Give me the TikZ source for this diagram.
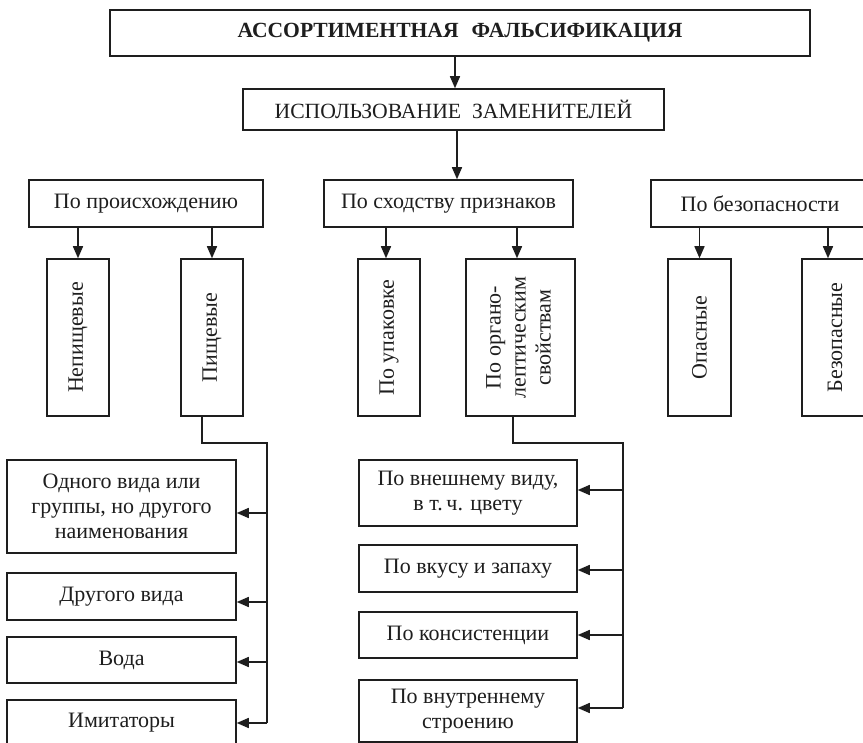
\documentclass[tikz,border=0pt]{standalone}
\usepackage{fontspec}
\setmainfont{Liberation Serif}
\usetikzlibrary{arrows.meta}
\definecolor{ink}{HTML}{1E1E1E}
\begin{document}
\begin{tikzpicture}[x=1pt,y=-1pt,
  box/.style={draw=ink, line width=1.5pt, text=ink, inner sep=0pt, align=center,
    font=\fontsize{22}{25}\selectfont},
  arr/.style={draw=ink, line width=1.5pt, -{Triangle[length=12pt,width=10pt]}},
  ln/.style={draw=ink, line width=1.5pt}]
\useasboundingbox[fill=white] (0,0) rectangle (863,743);
\clip (0,0) rectangle (863,743);

% level 1-2
\node[box, minimum width=700pt, minimum height=46pt,
  font=\bfseries\fontsize{21.6}{25}\selectfont] (top) at (460,33)
  {АССОРТИМЕНТНАЯ\hspace{0.6em}ФАЛЬСИФИКАЦИЯ};
\node[box, minimum width=421pt, minimum height=41pt,
  font=\fontsize{21.7}{25}\selectfont] (sub) at (453.5,109.5)
  {ИСПОЛЬЗОВАНИЕ\hspace{0.5em}ЗАМЕНИТЕЛЕЙ};

% level 3
\node[box, minimum width=234pt, minimum height=47pt] (p1) at (146,203.5) {По происхождению};
\node[box, minimum width=249pt, minimum height=47pt] (p2) at (448.5,203.5) {По сходству признаков};
\node[box, minimum width=218pt, minimum height=47pt] (p3) at (760,203.5) {По безопасности};

% level 4 (vertical text)
\node[box, minimum width=62pt, minimum height=157pt] (n1) at (78,337.5) {\rotatebox{90}{Непищевые}};
\node[box, minimum width=62pt, minimum height=157pt] (n2) at (212,337.5) {\rotatebox{90}{Пищевые}};
\node[box, minimum width=62pt, minimum height=157pt] (n3) at (389,337.5) {\rotatebox{90}{По упаковке}};
\node[box, minimum width=109pt, minimum height=157pt] (n4) at (520.5,337.5)
  {\rotatebox{90}{\begin{tabular}{@{}c@{}}По органо-\\лептическим\\свойствам\end{tabular}}};
\node[box, minimum width=63pt, minimum height=157pt] (n5) at (699.5,337.5) {\rotatebox{90}{Опасные}};
\node[box, minimum width=66pt, minimum height=157pt] (n6) at (835,337.5) {\rotatebox{90}{Безопасные}};

% level 5 left
\node[box, minimum width=229pt, minimum height=93pt] (a1) at (121.5,506.5)
  {Одного вида или\\группы, но другого\\наименования};
\node[box, minimum width=229pt, minimum height=47pt] (a2) at (121.5,596.5) {Другого вида};
\node[box, minimum width=229pt, minimum height=46pt] (a3) at (121.5,660) {Вода};
\node[box, minimum width=229pt, minimum height=46pt] (a4) at (121.5,723) {Имитаторы};

% level 5 right
\node[box, minimum width=218pt, minimum height=66pt] (b1) at (468,493)
  {По внешнему виду,\\в т.\,ч. цвету};
\node[box, minimum width=218pt, minimum height=47pt] (b2) at (468,568.5) {По вкусу и запаху};
\node[box, minimum width=218pt, minimum height=46pt] (b3) at (468,635) {По консистенции};
\node[box, minimum width=218pt, minimum height=62pt] (b4) at (468,711)
  {По внутреннему\\строению};

% connectors top
\draw[arr] (top.south -| sub.north) ++(1.5pt,0) coordinate (c0) -- (c0 |- sub.north);
\draw[arr] ([xshift=3.5pt]sub.south) -- ([xshift=3.5pt]sub.south |- p2.north);

% level 3 -> 4
\draw[arr] (n1.north |- p1.south) -- (n1.north);
\draw[arr] (n2.north |- p1.south) -- (n2.north);
\draw[arr] ([xshift=-3pt]n3.north |- p2.south) -- ([xshift=-3pt]n3.north);
\draw[arr] ([xshift=-3.5pt]n4.north |- p2.south) -- ([xshift=-3.5pt]n4.north);
\draw[arr] (n5.north |- p3.south) -- (n5.north);
\draw[arr] ([xshift=-7pt]n6.north |- p3.south) -- ([xshift=-7pt]n6.north);

% bus left
\coordinate (j1) at (267,443);
\coordinate (j1e) at (267,723);
\draw[ln] ([xshift=-10pt]n2.south) |- (j1) -- (j1e);
\draw[arr] (j1 |- 0,513) -- ([yshift=-6.5pt]a1.east);
\draw[arr] (j1 |- 0,602) -- ([yshift=-5.5pt]a2.east);
\draw[arr] (j1 |- 0,662) -- ([yshift=-2pt]a3.east);
\draw[arr] (j1e) -- (a4.east);

% bus right
\coordinate (j2) at (623,443);
\coordinate (j2e) at (623,708);
\draw[ln] ([xshift=-7.5pt]n4.south) |- (j2) -- (j2e);
\draw[arr] (j2 |- 0,490) -- ([yshift=3pt]b1.east);
\draw[arr] (j2 |- 0,570) -- ([yshift=-1.5pt]b2.east);
\draw[arr] (j2 |- 0,635) -- (b3.east);
\draw[arr] (j2e) -- ([yshift=3pt]b4.east);
\end{tikzpicture}
\end{document}
